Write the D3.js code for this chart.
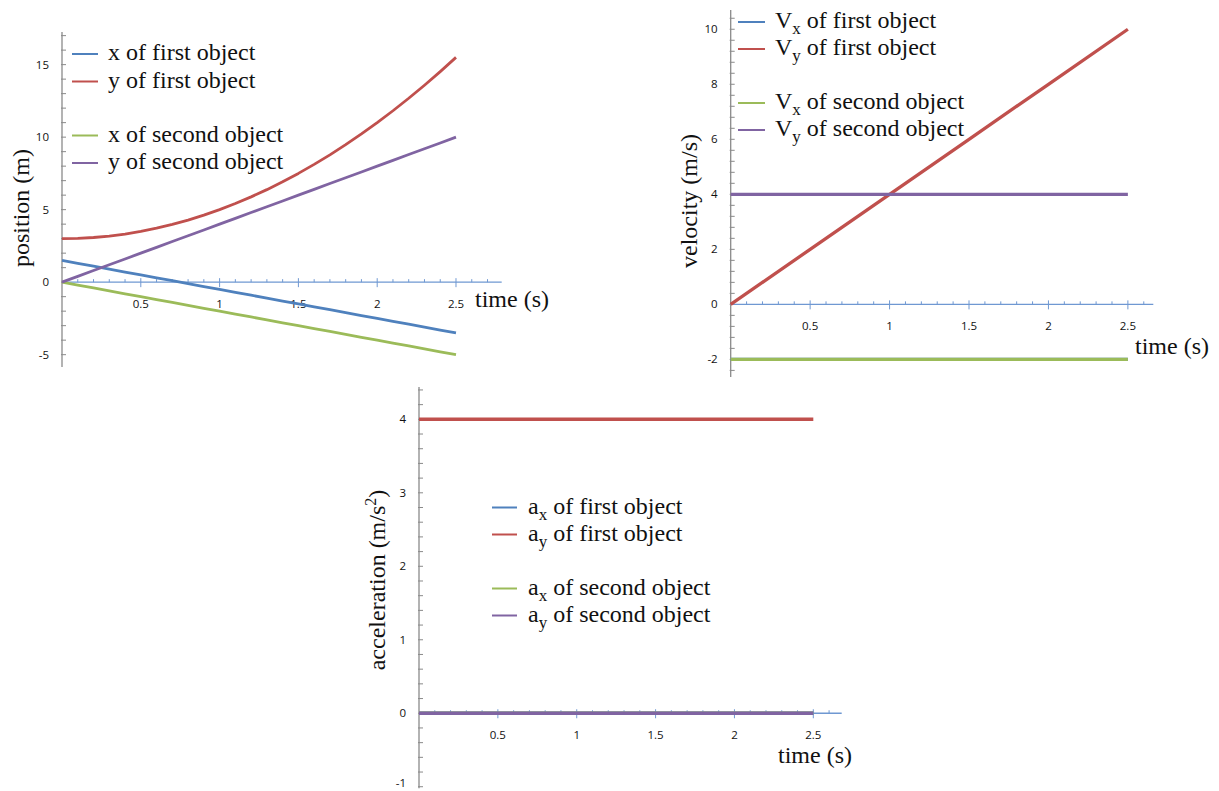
<!DOCTYPE html>
<html>
<head>
<meta charset="utf-8">
<script src="https://cdn.jsdelivr.net/npm/d3@7"></script>
<style>
  html, body { margin: 0; padding: 0; background: #ffffff; }
  svg { display: block; }
  .tick-label { font-family: "Open Sans", "Noto Sans", sans-serif; font-size: 11.5px; fill: #111; }
  .serif { font-family: "Liberation Serif", "Times New Roman", serif; fill: #111; }
</style>
</head>
<body>
<svg id="chart" width="1219" height="791"></svg>
<script>
// ---------------- DATA ----------------
const seriesColors = ["#4F81BD", "#C0504D", "#9BBB59", "#8064A2"];

// Position chart (time in s, position in m)
const timePos    = [0, 0.1, 0.2, 0.3, 0.4, 0.5, 0.6, 0.7, 0.8, 0.9, 1.0, 1.1, 1.2, 1.3, 1.4, 1.5, 1.6, 1.7, 1.8, 1.9, 2.0, 2.1, 2.2, 2.3, 2.4, 2.5];
const xFirstPos  = [1.5, 1.3, 1.1, 0.9, 0.7, 0.5, 0.3, 0.1, -0.1, -0.3, -0.5, -0.7, -0.9, -1.1, -1.3, -1.5, -1.7, -1.9, -2.1, -2.3, -2.5, -2.7, -2.9, -3.1, -3.3, -3.5];
const yFirstPos  = [3, 3.02, 3.08, 3.18, 3.32, 3.5, 3.72, 3.98, 4.28, 4.62, 5, 5.42, 5.88, 6.38, 6.92, 7.5, 8.12, 8.78, 9.48, 10.22, 11, 11.82, 12.68, 13.58, 14.52, 15.5];
const xSecondPos = [0, -0.2, -0.4, -0.6, -0.8, -1.0, -1.2, -1.4, -1.6, -1.8, -2.0, -2.2, -2.4, -2.6, -2.8, -3.0, -3.2, -3.4, -3.6, -3.8, -4.0, -4.2, -4.4, -4.6, -4.8, -5.0];
const ySecondPos = [0, 0.4, 0.8, 1.2, 1.6, 2.0, 2.4, 2.8, 3.2, 3.6, 4.0, 4.4, 4.8, 5.2, 5.6, 6.0, 6.4, 6.8, 7.2, 7.6, 8.0, 8.4, 8.8, 9.2, 9.6, 10.0];

// Velocity chart (m/s)
const timeVel   = [0, 0.5, 1, 1.5, 2, 2.5];
const vxFirst   = [-2, -2, -2, -2, -2, -2];
const vyFirst   = [0, 2, 4, 6, 8, 10];
const vxSecond  = [-2, -2, -2, -2, -2, -2];
const vySecond  = [4, 4, 4, 4, 4, 4];

// Acceleration chart (m/s^2)
const timeAcc   = [0, 2.5];
const axFirst   = [0, 0];
const ayFirst   = [4, 4];
const axSecond  = [0, 0];
const aySecond  = [0, 0];

// Tick labels
const timeTicks   = [0.5, 1, 1.5, 2, 2.5];
const posTicksY   = [-5, 0, 5, 10, 15];
const velTicksY   = [-2, 0, 2, 4, 6, 8, 10];
const accTicksY   = [-1, 0, 1, 2, 3, 4];

// Legend labels: [main, subscript, rest]
const posLegend = [["x", "", " of first object"], ["y", "", " of first object"], ["x", "", " of second object"], ["y", "", " of second object"]];
const velLegend = [["V", "x", " of first object"], ["V", "y", " of first object"], ["V", "x", " of second object"], ["V", "y", " of second object"]];
const accLegend = [["a", "x", " of first object"], ["a", "y", " of first object"], ["a", "x", " of second object"], ["a", "y", " of second object"]];

// ---------------- DRAW ----------------
const svg = d3.select("#chart");

function drawChart(cfg) {
  const g = svg.append("g");
  const x = d3.scaleLinear().domain(cfg.xDomain).range(cfg.xRange);
  const y = d3.scaleLinear().domain(cfg.yDomain).range(cfg.yRange);
  const x0 = x(0), y0 = y(0);

  // y axis line (gray)
  g.append("line").attr("x1", x0).attr("x2", x0)
    .attr("y1", y(cfg.yDomain[1])).attr("y2", y(cfg.yDomain[0]))
    .attr("stroke", "#8a8a8a").attr("stroke-width", 1.3);
  // y minor ticks
  const nMinY0 = Math.ceil(cfg.yDomain[0] / cfg.yMinor - 1e-6);
  const nMinY1 = Math.floor(cfg.yDomain[1] / cfg.yMinor + 1e-6);
  const yMinorVals = d3.range(nMinY0, nMinY1 + 1).map(i => +(i * cfg.yMinor).toFixed(4));
  g.selectAll(null).data(yMinorVals).enter().append("line")
    .attr("x1", x0 - 1).attr("x2", x0 + 4)
    .attr("y1", d => y(d)).attr("y2", d => y(d))
    .attr("stroke", "#8a8a8a").attr("stroke-width", 1);
  // y tick labels
  g.selectAll(null).data(cfg.yTicks).enter().append("text")
    .attr("class", "tick-label")
    .attr("x", x0 - 13).attr("y", d => Math.min(y(d) + 4, 787))
    .attr("text-anchor", "end")
    .text(d => d);

  // x axis line (blue)
  g.append("line").attr("x1", x0).attr("x2", x(cfg.xDomain[1]))
    .attr("y1", y0).attr("y2", y0)
    .attr("stroke", "#6f98d2").attr("stroke-width", 1.3);
  const xMinorVals = d3.range(1, Math.floor(cfg.xDomain[1] / 0.1 + 1e-6) + 1).map(i => +(i * 0.1).toFixed(2));
  g.selectAll(null).data(xMinorVals).enter().append("line")
    .attr("x1", d => x(d)).attr("x2", d => x(d))
    .attr("y1", d => (Math.abs(d * 2 - Math.round(d * 2)) < 1e-6) ? y0 - 4 : y0 - 3)
    .attr("y2", d => (Math.abs(d * 2 - Math.round(d * 2)) < 1e-6) ? y0 + 5 : y0)
    .attr("stroke", "#6f98d2").attr("stroke-width", 1);
  g.selectAll(null).data(timeTicks).enter().append("text")
    .attr("class", "tick-label")
    .attr("x", d => x(d)).attr("y", y0 + 26)
    .attr("text-anchor", "middle")
    .text(d => d);

  // series lines
  const line = d3.line().x(d => x(d[0])).y(d => y(d[1]));
  cfg.series.forEach((s, i) => {
    g.append("path")
      .datum(cfg.time.map((t, k) => [t, s[k]]))
      .attr("d", line)
      .attr("fill", "none")
      .attr("stroke", seriesColors[i])
      .attr("stroke-width", cfg.lineWidth)
      .attr("stroke-linejoin", "round");
  });

  // legend
  cfg.legend.forEach((lab, i) => {
    const ly = cfg.legendRows[i];
    g.append("line")
      .attr("x1", cfg.legendX).attr("x2", cfg.legendX + cfg.legendLen)
      .attr("y1", ly).attr("y2", ly)
      .attr("stroke", seriesColors[i]).attr("stroke-width", 2);
    const t = g.append("text").attr("class", "serif")
      .attr("x", cfg.legendTextX).attr("y", ly + 6)
      .style("font-size", "24px");
    t.append("tspan").text(lab[0]);
    if (lab[1]) {
      t.append("tspan").attr("dy", 6).style("font-size", "17px").text(lab[1]);
      t.append("tspan").attr("dy", -6).text(lab[2]);
    } else {
      t.append("tspan").text(lab[2]);
    }
  });

  // axis titles
  g.append("text").attr("class", "serif")
    .attr("x", cfg.timeLabel[0]).attr("y", cfg.timeLabel[1])
    .style("font-size", "24px")
    .text("time (s)");
  const yl = g.append("text").attr("class", "serif")
    .attr("transform", `translate(${cfg.yLabel[0]},${cfg.yLabel[1]}) rotate(-90)`)
    .attr("text-anchor", "middle")
    .style("font-size", "24px");
  yl.append("tspan").text(cfg.yTitle[0]);
  if (cfg.yTitle[1]) {
    yl.append("tspan").attr("dy", -9).style("font-size", "16px").text(cfg.yTitle[1]);
    yl.append("tspan").attr("dy", 9).text(cfg.yTitle[2]);
  }
}

drawChart({
  xDomain: [0, 2.79], xRange: [62, 501.7],
  yDomain: [-5.85, 17.25], yRange: [367, 32],
  yMinor: 1, yTicks: posTicksY,
  time: timePos, series: [xFirstPos, yFirstPos, xSecondPos, ySecondPos],
  lineWidth: 2.8,
  legend: posLegend, legendX: 72, legendLen: 26, legendTextX: 108,
  legendRows: [54, 81.5, 135.5, 163],
  timeLabel: [475, 307],
  yLabel: [29, 208], yTitle: ["position (m)"]
});

drawChart({
  xDomain: [0, 2.66], xRange: [730.7, 1153.3],
  yDomain: [-2.64, 10.7], yRange: [377, 10],
  yMinor: 0.4, yTicks: velTicksY,
  time: timeVel, series: [vxFirst, vyFirst, vxSecond, vySecond],
  lineWidth: 3.3,
  legend: velLegend, legendX: 738, legendLen: 27, legendTextX: 775,
  legendRows: [22, 49, 103, 130],
  timeLabel: [1135, 354],
  yLabel: [697, 201], yTitle: ["velocity (m/s)"]
});

drawChart({
  xDomain: [0, 2.68], xRange: [419, 841.7],
  yDomain: [-1.02, 4.44], yRange: [788.2, 387],
  yMinor: 0.2, yTicks: accTicksY,
  time: timeAcc, series: [axFirst, ayFirst, axSecond, aySecond],
  lineWidth: 3.5,
  legend: accLegend, legendX: 492, legendLen: 25, legendTextX: 528,
  legendRows: [507.5, 534.5, 588.5, 615.5],
  timeLabel: [778, 763],
  yLabel: [385, 580], yTitle: ["acceleration (m/s", "2", ")"]
});
</script>
</body>
</html>
